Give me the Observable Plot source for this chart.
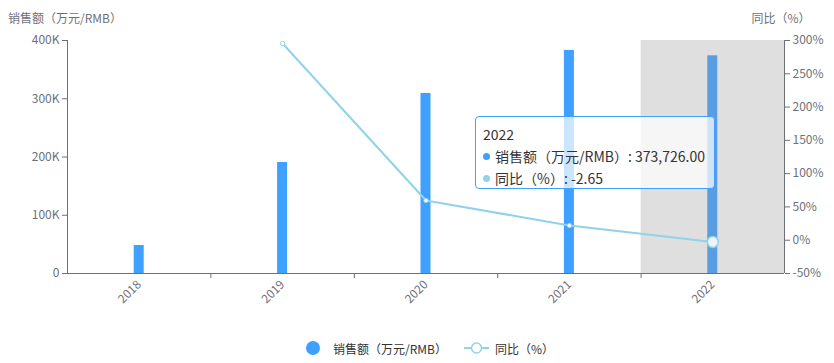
<!DOCTYPE html>
<html>
<head>
<meta charset="utf-8">
<script src="https://cdn.jsdelivr.net/npm/d3@7"></script>
<script src="https://cdn.jsdelivr.net/npm/@observablehq/plot@0.6"></script>
<style>
  html, body { margin: 0; padding: 0; background: #fff; }
  body { font-family: "Noto Sans CJK SC", "Noto Sans", sans-serif; }
  #wrap { position: relative; width: 834px; height: 363px; }
  .atitle { position: absolute; top: 9px; font-size: 12px; color: #6e7079; transform: translateX(-50%); white-space: nowrap; }
  #legend { position: absolute; top: 338px; left: 306px; height: 20px; display: flex; align-items: center; font-size: 12px; color: #333; }
  .litem { display: flex; align-items: center; white-space: nowrap; }
  #tip { position: absolute; left: 475px; top: 116px; width: 224px; height: 59px; padding: 6px 7px; background: rgba(255,255,255,0.72); border: 1px solid #3fa0ff; border-radius: 4px; font-size: 14px; color: #333; line-height: 22px; }
  #tip .row { display: flex; align-items: center; white-space: nowrap; }
  #tip .dot { width: 7px; height: 7px; border-radius: 50%; margin-right: 5px; display: inline-block; }
</style>
</head>
<body>
<div id="wrap"></div>
<script>
const years = [2018, 2019, 2020, 2021, 2022];
const sales = [48000, 190600, 309000, 383000, 373726];
const growth = [null, 295.5, 59.7, 22.1, -2.65];
const salesTicks = [0, 100000, 200000, 300000, 400000];
const pctTicks = [-50, 0, 50, 100, 150, 200, 250, 300];
const salesName = "销售额（万元/RMB）";
const growthName = "同比（%）";
const hoverYear = 2022;

const barColor = "#3fa0ff";
const lineColor = "#8fd3ea";
const axisColor = "#6e7079";

const data = years.map((y, i) => ({year: y, sales: sales[i], growth: growth[i]}));
const lineData = data.filter(d => d.growth != null);
const pctMin = -50, pctMax = 300, yMax = 400000;
const toY = p => (p - pctMin) / (pctMax - pctMin) * yMax;
const fromY = v => Math.round(v / yMax * (pctMax - pctMin) + pctMin);

const wrap = document.getElementById("wrap");

const chart = Plot.plot({
  width: 834,
  height: 310,
  marginTop: 40,
  marginBottom: 37,
  marginLeft: 67,
  marginRight: 50,
  style: {fontFamily: '"Noto Sans CJK SC", "Noto Sans", sans-serif', fontSize: "12px", background: "transparent"},
  x: {type: "linear", domain: [years[0] - 0.5, years[years.length - 1] + 0.5]},
  y: {domain: [0, yMax]},
  marks: [
    Plot.rectY(data, {x1: d => d.year - 0.5, x2: d => d.year + 0.5, y: "sales", fill: barColor, insetLeft: 66.7, insetRight: 66.7}),
    Plot.rectY([hoverYear], {x1: d => d - 0.5, x2: d => d + 0.5, y1: 0, y2: yMax, fill: "rgb(150,150,150)", fillOpacity: 0.3}),
    Plot.ruleY([0], {stroke: axisColor}),
    Plot.ruleX([years[0] - 0.5, years[years.length - 1] + 0.5], {stroke: axisColor}),
    Plot.axisY({anchor: "left", ticks: salesTicks, tickFormat: d => d === 0 ? "0" : (d / 1000) + "K", tickSize: 5, tickPadding: 3, label: null, color: axisColor}),
    Plot.axisY({anchor: "right", ticks: pctTicks.map(toY), tickFormat: v => fromY(v) + "%", tickSize: 5, tickPadding: 3, label: null, color: axisColor}),
    Plot.axisX({ticks: years, tickFormat: d => String(d), tickRotate: -45, tickSize: 0, tickPadding: 9, label: null, color: axisColor}),
    Plot.axisX({ticks: years.slice(0, -1).map(y => y + 0.5), tickFormat: () => "", tickSize: 5, label: null, color: axisColor}),
    Plot.line(lineData, {x: "year", y: d => toY(d.growth), stroke: lineColor, strokeWidth: 2}),
    Plot.dot(lineData.filter(d => d.year !== hoverYear), {x: "year", y: d => toY(d.growth), r: 2.2, fill: "white", stroke: lineColor, strokeWidth: 1}),
    Plot.dot(lineData.filter(d => d.year === hoverYear), {x: "year", y: d => toY(d.growth), r: 5.5, fill: "#eef3f5", stroke: lineColor, strokeWidth: 1.5})
  ]
});
chart.style.position = "absolute";
chart.style.left = "0px";
chart.style.top = "0px";
wrap.appendChild(chart);

// axis titles
const t1 = document.createElement("div");
t1.className = "atitle"; t1.style.left = "65px"; t1.textContent = salesName;
wrap.appendChild(t1);
const t2 = document.createElement("div");
t2.className = "atitle"; t2.style.left = "781px"; t2.textContent = growthName;
wrap.appendChild(t2);

// tooltip
const hi = data.find(d => d.year === hoverYear);
const tip = document.createElement("div");
tip.id = "tip";
tip.innerHTML = `<div>${hi.year}</div>
<div class="row"><span class="dot" style="background:${barColor}"></span>${salesName}: ${hi.sales.toLocaleString("en-US", {minimumFractionDigits: 2, maximumFractionDigits: 2})}</div>
<div class="row"><span class="dot" style="background:${lineColor}"></span>${growthName}: ${hi.growth}</div>`;
wrap.appendChild(tip);

// legend
const legend = document.createElement("div");
legend.id = "legend";
legend.innerHTML = `<div class="litem"><svg width="14" height="14" style="margin-right:13px"><circle cx="7" cy="7" r="7" fill="${barColor}"/></svg>${salesName}</div>
<div class="litem" style="margin-left:17px"><svg width="25" height="14" style="margin-right:6px"><line x1="0" y1="7" x2="25" y2="7" stroke="${lineColor}" stroke-width="2"/><circle cx="12.5" cy="7" r="5" fill="white" stroke="${lineColor}" stroke-width="1.5"/></svg>${growthName}</div>`;
wrap.appendChild(legend);
</script>
</body>
</html>
